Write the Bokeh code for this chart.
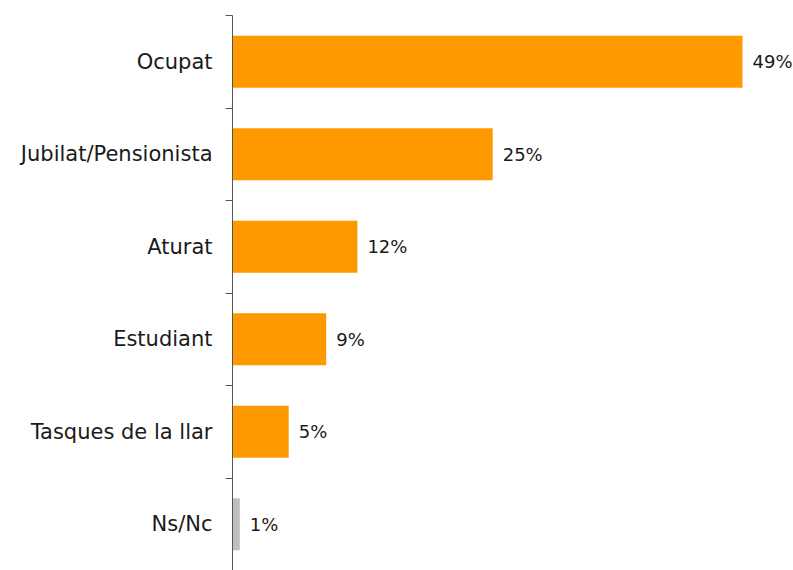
from bokeh.plotting import figure
from bokeh.models import Range1d, FixedTicker, ColumnDataSource, LinearAxis
from bokeh.embed import file_html
from bokeh.resources import INLINE
from bokeh.core.properties import value

categories = ["Ocupat", "Jubilat/Pensionista", "Aturat", "Estudiant", "Tasques de la llar", "Ns/Nc"]
values = [49, 25, 12, 9, 5.4, 0.7]
labels = ["49%", "25%", "12%", "9%", "5%", "1%"]
colors = ["#FF9900", "#FF9900", "#FF9900", "#FF9900", "#FF9900", "#BFBFBF"]

n = len(categories)
ypos = [n - 0.5 - i for i in range(n)]

FONT = "DejaVu Sans"

p = figure(width=793, height=570, output_backend="svg", toolbar_location=None,
           x_range=Range1d(0, 53.9), y_range=Range1d(0, n),
           min_border_left=232, min_border_right=0, min_border_top=15, min_border_bottom=0,
           x_axis_location=None, y_axis_location=None)
p.outline_line_color = None
p.xgrid.visible = False
p.ygrid.visible = False

src = ColumnDataSource(dict(y=ypos, v=values, c=colors, lab=labels, cat=categories))
p.hbar(y="y", left=0, right="v", height=0.56, fill_color="c", line_color=None, source=src)
p.text(x="v", y="y", text="lab", x_offset=10, text_baseline="middle", text_align="left",
       text_font=value(FONT), text_font_size="18px", text_color="#1a1a1a", source=src)

yaxis = LinearAxis(ticker=FixedTicker(ticks=ypos, minor_ticks=list(range(n + 1))),
                   major_label_overrides={y: c for y, c in zip(ypos, categories)})
yaxis.major_tick_line_color = None
yaxis.major_tick_out = 0
yaxis.major_tick_in = 0
yaxis.minor_tick_out = 7
yaxis.minor_tick_in = 0
yaxis.minor_tick_line_color = "#555555"
yaxis.axis_line_color = "#555555"
yaxis.major_label_standoff = 13
yaxis.major_label_text_font = FONT
yaxis.major_label_text_font_size = "21px"
yaxis.major_label_text_color = "#1a1a1a"
p.add_layout(yaxis, "left")

open("out.html", "w").write(file_html(p, INLINE))
